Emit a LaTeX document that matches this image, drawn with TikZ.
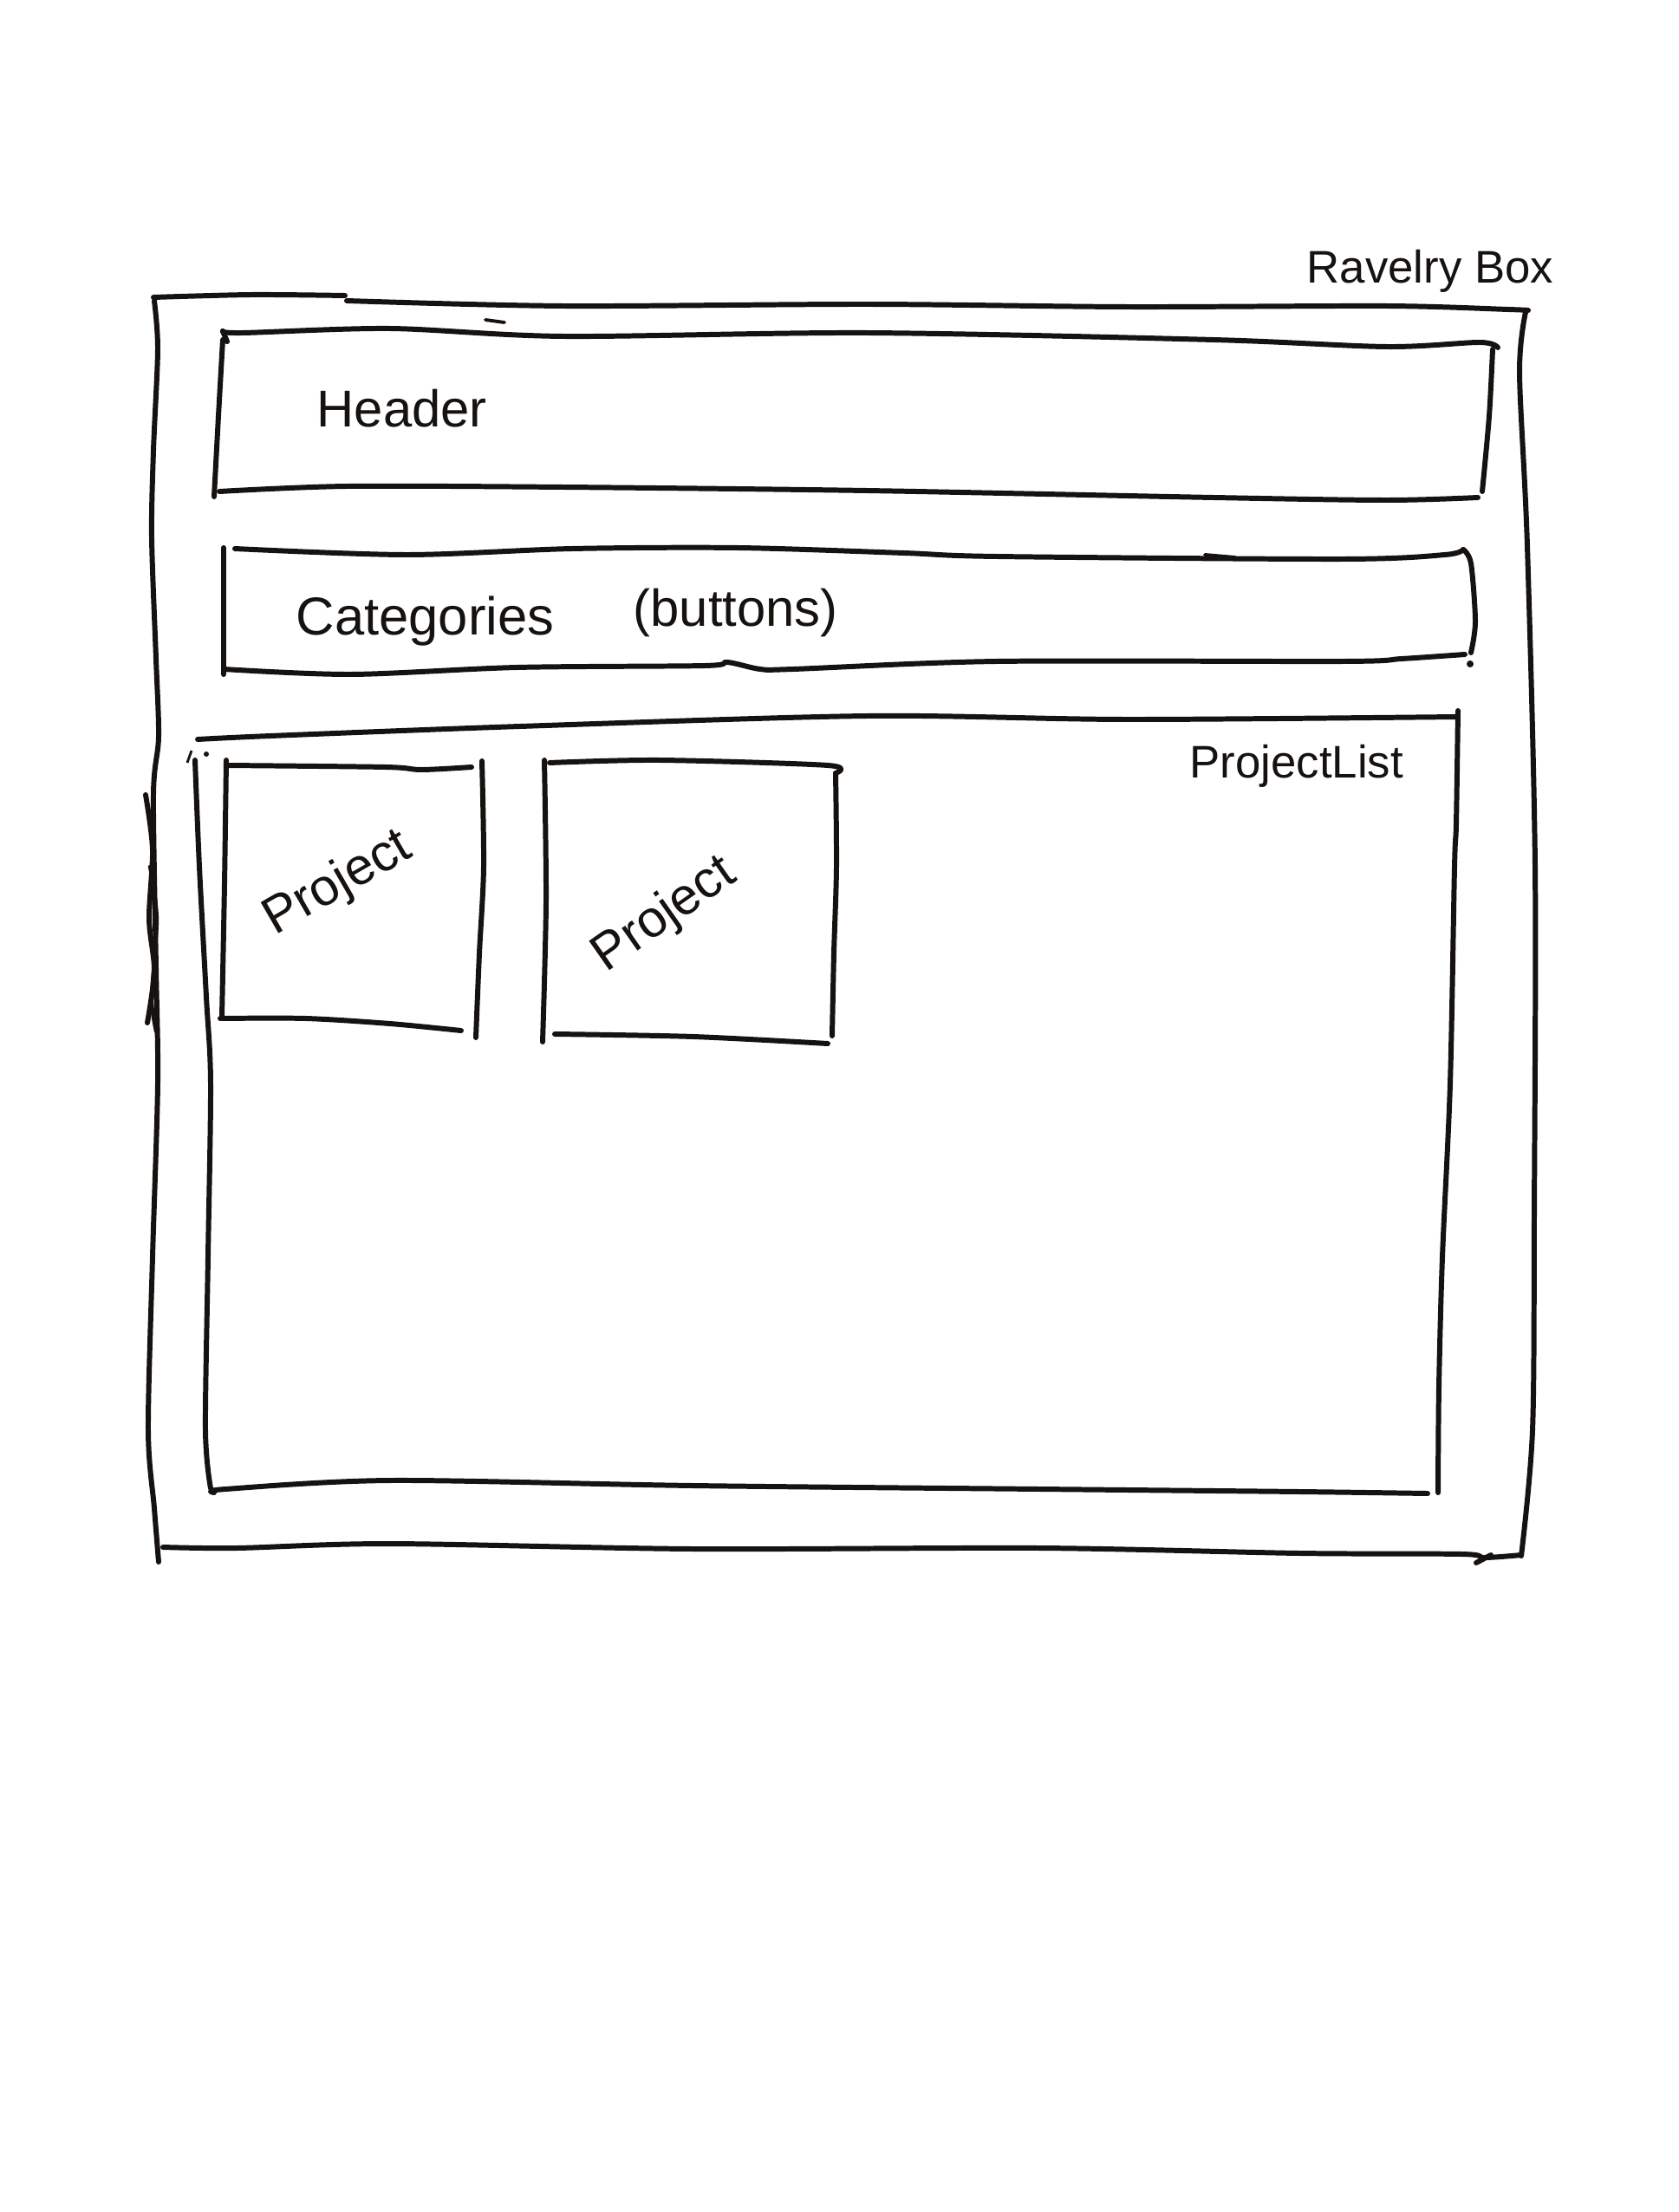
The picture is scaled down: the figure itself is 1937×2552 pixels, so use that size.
\documentclass[tikz,border=0pt]{standalone}
\usepackage{fontspec}
\setmainfont{Liberation Sans}
\definecolor{ink}{HTML}{161210}
\begin{document}
\begin{tikzpicture}[x=0.01cm,y=-0.01cm,
  pen/.style={draw=ink, line width=1.7pt, line cap=round, line join=round},
  hand/.style={text=ink, inner sep=0pt},
  lbl/.style={hand, font=\fontsize{#1}{#1}\selectfont},
]
\useasboundingbox (0,0) rectangle (1937,2552);
\fill[white] (0,0) rectangle (1937,2552);

% ---------- outer frame ----------
\draw[pen] plot[smooth, tension=0.5] coordinates {(177,343) (290,340) (398,341)};
\draw[pen] plot[smooth, tension=0.5] coordinates {(400,347) (650,353) (1000,351) (1300,354) (1600,353) (1740,357) (1763,358)};
\draw[pen] plot[smooth, tension=0.5] coordinates {(1760,360) (1753,430) (1762,630) (1771,1000) (1770,1400) (1768,1650) (1755,1795)};
\draw[pen] plot[smooth, tension=0.5] coordinates {(188,1785) (273,1786) (450,1781) (800,1787) (1200,1786) (1500,1792) (1687,1793) (1712,1797) (1755,1794)};
\draw[pen] (1703,1803) -- (1720,1794);
\draw[pen] plot[smooth, tension=0.5] coordinates {(178,347) (182,403) (177,520) (175,620) (180,760) (183,850) (177,917) (180,1117) (182,1250) (176,1450) (171,1650) (178,1740) (183,1802)};
% extra pen strokes on the left side
\draw[pen] plot[smooth, tension=0.5] coordinates {(168,917) (176,980) (172,1060) (178,1120) (170,1180)};
\draw[pen, line width=1.2pt] plot[smooth, tension=0.5] coordinates {(173,1000) (181,1060) (175,1150) (180,1190)};

% ---------- header box ----------
\draw[pen] plot[smooth, tension=0.5] coordinates {(257,382) (280,384) (450,379) (650,388) (1000,384) (1400,392) (1600,400) (1707,395) (1728,401)};
\draw[pen] (257,382) -- (262,394);
\draw[pen] plot[smooth, tension=0.5] coordinates {(1722,403) (1718,480) (1710,567)};
\draw[pen] plot[smooth, tension=0.5] coordinates {(253,567) (400,561) (650,562) (1000,566) (1400,574) (1600,577) (1705,574)};
\draw[pen] plot[smooth, tension=0.5] coordinates {(257,392) (252,480) (247,573)};
\draw[pen, line width=1.1pt] (560,369) -- (582,372);

% ---------- categories box ----------
\draw[pen] plot[smooth, tension=0.5] coordinates {(271,633) (469,640) (660,633) (852,632) (1043,638) (1150,642) (1550,645) (1667,640) (1688,634)};
\draw[pen] plot[smooth, tension=0.5] coordinates {(1688,634) (1697,650) (1702,717) (1697,753)};
\fill[ink] (1696,766) circle (4);
\draw[pen] (258,632) -- (258,778);
\draw[pen] plot[smooth, tension=0.5] coordinates {(258,772) (405,778) (596,770) (813,768) (839,764) (877,772) (915,772) (1150,763) (1550,763) (1617,760) (1690,755)};
\draw[pen, line width=1.1pt] (1390,640) -- (1425,643);

% ---------- project list box ----------
\draw[pen] plot[smooth, tension=0.5] coordinates {(228,853) (312,849) (600,838) (1000,826) (1300,830) (1680,827)};
\draw[pen] plot[smooth, tension=0.5] coordinates {(1682,820) (1680,950) (1678,1000) (1673,1250) (1664,1450) (1660,1600) (1659,1722)};
\draw[pen] plot[smooth, tension=0.5] coordinates {(247,1722) (260,1718) (450,1708) (800,1714) (1200,1718) (1500,1721) (1647,1723)};
\draw[pen] plot[smooth, tension=0.5] coordinates {(225,877) (230,1000) (238,1150) (243,1250) (240,1450) (237,1650) (243,1717)};
\fill[ink] (238,870) circle (3);
\draw[ink, line width=0.8pt] (216,880) -- (221,866);

% ---------- project cards ----------
\draw[pen] plot[smooth, tension=0.5] coordinates {(261,883) (445,885) (486,888) (544,885)};
\draw[pen] plot[smooth, tension=0.5] coordinates {(261,877) (259,1020) (256,1173)};
\draw[pen] plot[smooth, tension=0.5] coordinates {(254,1175) (353,1175) (450,1181) (532,1189)};
\draw[pen] plot[smooth, tension=0.5] coordinates {(556,878) (558,1000) (553,1100) (549,1197)};

\draw[pen] plot[smooth, tension=0.5] coordinates {(628,877) (630,1040) (626,1202)};
\draw[pen] plot[smooth, tension=0.5] coordinates {(634,880) (761,877) (955,883) (964,892)};
\draw[pen] plot[smooth, tension=0.5] coordinates {(964,892) (965,1000) (962,1100) (960,1195)};
\draw[pen] plot[smooth, tension=0.5] coordinates {(640,1193) (800,1196) (955,1204)};

% ---------- labels ----------
\node[lbl=15, anchor=base west] (ravelry) at (1507,327) {Ravelry Box};
\node[lbl=17, anchor=base west] (header) at (365,493) {Header};
\node[lbl=17.5, anchor=base west] (categories) at (341,732) {Categories};
\node[lbl=17, anchor=base west] (buttons) at (730,722) {(buttons)};
\node[lbl=15, anchor=base west] (projectlist) at (1372,897) {ProjectList};
\node[lbl=17, rotate=30] (proj1) at (390,1020) {Project};
\node[lbl=17, rotate=35] (proj2) at (767,1056) {Project};
\end{tikzpicture}
\end{document}
